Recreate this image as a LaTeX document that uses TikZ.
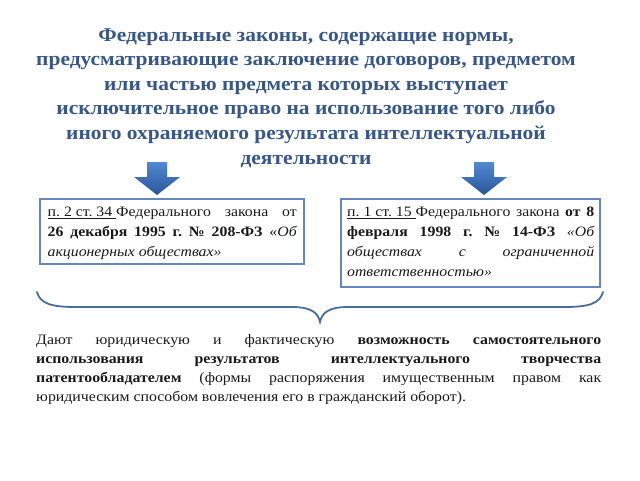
\documentclass[tikz,border=0pt]{standalone}
\usepackage{fontspec}
\setmainfont[FakeStretch=1.1]{Liberation Serif}
\frenchspacing
\definecolor{titleblue}{HTML}{37578A}
\definecolor{boxblue}{HTML}{6787BC}
\definecolor{bracecol}{HTML}{4A6D9E}
\definecolor{arrtop}{HTML}{5189D4}
\definecolor{arrbot}{HTML}{2A5699}
\definecolor{txt}{HTML}{1A1A1A}
\tikzset{
  lawtext/.style={inner sep=0pt, text width=#1, align=justify, anchor=north west, text=txt,
    font=\fontsize{14.35}{19.8}\selectfont},
  lawframe/.style={draw=boxblue, line width=1.4pt},
  downarrow/.style={top color=arrtop, bottom color=arrbot, draw=none},
  bracestyle/.style={draw=bracecol, line width=1.8pt, line cap=round}
}
\begin{document}
\begin{tikzpicture}[x=1pt,y=-1pt]
\useasboundingbox (0,0) rectangle (640,480);
\fill[white] (0,0) rectangle (640,480);
% title
\node[text=titleblue, align=center, font=\bfseries\fontsize{19.5}{24.6}\selectfont] (title) at (306,98)
 {Федеральные законы, содержащие нормы,\\
  предусматривающие заключение договоров, предметом\\
  или частью предмета которых выступает\\
  исключительное право на использование того либо\\
  иного охраняемого результата интеллектуальной\\
  деятельности};
% arrows
\path[downarrow] (147,162) -- (167,162) -- (167,177) -- (180,177) -- (157,195) -- (134,177) -- (147,177) -- cycle;
\path[downarrow] (474,162) -- (494,162) -- (494,177) -- (507,177) -- (484,195) -- (461,177) -- (474,177) -- cycle;
% boxes
\draw[lawframe] (40,199) rectangle (304,264);
\node[lawtext=249pt] (left) at (47.5,207)
 {\underline{п. 2 ст. 34 }Федерального закона от\linebreak
  \textbf{26 декабря 1995 г. № 208-ФЗ} «\textit{Об\linebreak
  акционерных обществах»}};
\draw[lawframe] (341,199) rectangle (600,287);
\node[lawtext=247pt] (right) at (347,207)
 {\underline{п. 1 ст. 15 }Федерального закона \textbf{от 8\linebreak
  февраля 1998 г. № 14-ФЗ} \textit{«Об\linebreak
  обществах с ограниченной\linebreak
  ответственностью»}};
% brace
\draw[bracestyle] (37,292) .. controls (40,303) and (50,307) .. (75,307) -- (292,307)
  .. controls (310,307) and (318,312) .. (320,322)
  .. controls (322,312) and (330,307) .. (348,307) -- (565,307)
  .. controls (590,307) and (600,303) .. (603,292);
% bottom text
\node[anchor=north west, text width=565pt, align=justify, inner sep=0pt, text=txt,
  font=\fontsize{14.4}{19}\selectfont] (bottom) at (36,334)
 {Дают юридическую и фактическую \textbf{возможность самостоятельного\linebreak
  использования результатов интеллектуального творчества\linebreak
  патентообладателем} (формы распоряжения имущественным правом как\linebreak
  юридическим способом вовлечения его в гражданский оборот).};
\end{tikzpicture}
\end{document}
